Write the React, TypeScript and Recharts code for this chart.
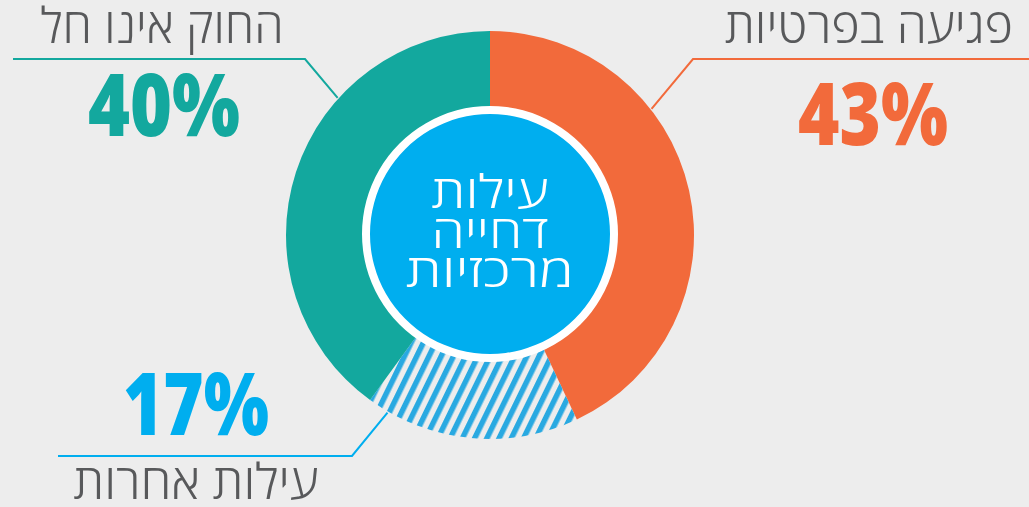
import React from 'react';
import { PieChart, Pie, Cell } from 'recharts';

const categories = ['פגיעה בפרטיות', 'עילות אחרות', 'החוק אינו חל'];
const values = [43, 17, 40];
const percentLabels = ['43%', '17%', '40%'];
const centerLines = ['עילות', 'דחייה', 'מרכזיות'];

const COLORS = ['#F26A3B', 'url(#hatch)', '#13A89E'];
const LINE_COLORS = ['#F26A3B', '#00AEEF', '#13A89E'];
const PCT_COLORS = ['#F26A3B', '#00AEEF', '#13A89E'];
const GRAY = '#58595B';

// layout for leader lines and labels (per slice index)
const LAYOUT = [
  { anchorDeg: 52, elbowX: 693, elbowY: 59, endX: 1029, nameX: 869, nameY: 43, nameW: 288, pctX: 873, pctY: 145, pctW: 150 },
  { anchorDeg: 210, elbowX: 352, elbowY: 456, endX: 58, nameX: 196, nameY: 499, nameW: 245, pctX: 196, pctY: 435, pctW: 146 },
  { anchorDeg: 312, elbowX: 305, elbowY: 59, endX: 13, nameX: 162, nameY: 43, nameW: 243, pctX: 164, pctY: 136, pctW: 152 },
];
const CENTER_WIDTHS = [117, 117, 168];

const data = categories.map((name, i) => ({ name, value: values[i] }));
const FONT = "'Open Sans', 'DejaVu Sans', sans-serif";

const renderLabel = (props: any) => {
  const { cx, cy, outerRadius, index } = props;
  const L = LAYOUT[index];
  const rad = (L.anchorDeg * Math.PI) / 180;
  const ax = cx + (outerRadius + 1) * Math.sin(rad);
  const ay = cy - (outerRadius + 1) * Math.cos(rad);
  return (
    <g key={`lbl-${index}`}>
      <polyline
        points={`${ax},${ay} ${L.elbowX},${L.elbowY} ${L.endX},${L.elbowY}`}
        fill="none"
        stroke={LINE_COLORS[index]}
        strokeWidth={2}
      />
      <text
        x={L.nameX}
        y={L.nameY}
        textAnchor="middle"
        fill={GRAY}
        fontFamily={FONT}
        fontWeight={300}
        fontSize={49}
        direction="rtl"
        textLength={L.nameW}
        lengthAdjust="spacingAndGlyphs"
      >
        {categories[index]}
      </text>
      <text
        x={L.pctX}
        y={L.pctY}
        textAnchor="middle"
        fill={PCT_COLORS[index]}
        fontFamily={FONT}
        fontWeight={800}
        fontSize={86}
        textLength={L.pctW}
        lengthAdjust="spacingAndGlyphs"
      >
        {percentLabels[index]}
      </text>
    </g>
  );
};

const renderCenter = (props: any) => {
  const { cx, cy, index } = props;
  if (index !== 0) return null;
  return (
    <g key="center">
      {centerLines.map((t, i) => (
        <text
          key={i}
          x={cx}
          y={cy - 26 + i * 39.5}
          textAnchor="middle"
          fill="#FFFFFF"
          fontFamily={FONT}
          fontWeight={300}
          fontSize={46}
          direction="rtl"
          textLength={CENTER_WIDTHS[i]}
          lengthAdjust="spacingAndGlyphs"
        >
          {t}
        </text>
      ))}
    </g>
  );
};

export default function App() {
  return (
    <div style={{ position: 'absolute', left: 0, top: 0, width: 1029, height: 507, background: '#EDEDED', overflow: 'hidden' }}>
      <svg width={0} height={0} style={{ position: 'absolute' }}>
        <defs>
          <pattern id="hatch" patternUnits="userSpaceOnUse" width={11} height={11} patternTransform="rotate(26)">
            <rect x={0} y={0} width={5.5} height={11} fill="#29A9E1" />
          </pattern>
        </defs>
      </svg>
      <PieChart width={1029} height={507} margin={{ top: 0, right: 0, bottom: 0, left: 0 }}>
        <Pie
          data={data}
          dataKey="value"
          nameKey="name"
          cx={490}
          cy={235}
          innerRadius={126}
          outerRadius={204}
          startAngle={90}
          endAngle={-270}
          stroke="none"
          label={renderLabel}
          labelLine={false}
          isAnimationActive={false}
        >
          {data.map((d, i) => (
            <Cell key={d.name} fill={COLORS[i]} stroke="none" />
          ))}
        </Pie>
        <Pie
          data={[{ name: 'ring', value: 1 }]}
          dataKey="value"
          cx={490}
          cy={234}
          innerRadius={119}
          outerRadius={128}
          startAngle={90}
          endAngle={-270}
          fill="#FFFFFF"
          stroke="none"
          isAnimationActive={false}
        />
        <Pie
          data={[{ name: 'center', value: 1 }]}
          dataKey="value"
          cx={490}
          cy={234}
          innerRadius={0}
          outerRadius={120}
          startAngle={90}
          endAngle={-270}
          fill="#00AEEF"
          stroke="none"
          label={renderCenter}
          labelLine={false}
          isAnimationActive={false}
        />
      </PieChart>
    </div>
  );
}
